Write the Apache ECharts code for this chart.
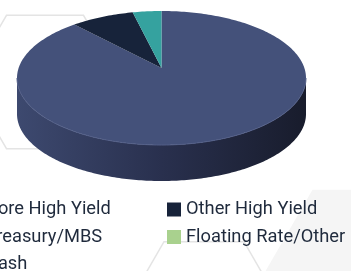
<!DOCTYPE html>
<html>
<head>
<meta charset="utf-8">
<script src="https://cdn.jsdelivr.net/npm/echarts@6/dist/echarts.min.js"></script>
<style>
  html, body { margin: 0; padding: 0; background: #ffffff; }
  #chart { width: 351px; height: 271px; }
</style>
</head>
<body>
<div id="chart"></div>
<script>
// slice order runs clockwise from 12 o'clock
let categories = ["Core High Yield", "Other High Yield", "Treasury/MBS", "Floating Rate/Other", "Cash"];
let weights = [89.7, 7.1, 3.2, 0, 0];
let leftColumn = ["Core High Yield", "Treasury/MBS", "Cash"];
let rightColumn = ["Other High Yield", "Floating Rate/Other"];

let topColors = ["#44517a", "#17233a", "#35a29f", "#a9d18e", "#a6a6a6"];
let sideColors = [
  ["#3d496f", "#29304e", "#181c2c"],
  ["#141d30", "#111827", "#0d1320"],
  ["#2c8a87", "#237270", "#1b5a58"],
  ["#8fb277", "#7a9a65", "#657f53"],
  ["#8c8c8c", "#777777", "#626262"],
];

// ellipse of the tilted disc
let cx = 161.5;
let cy = 78;
let rx = 144.5;
let ry = 67;
let apexY = 68;
let depth = 36;

function pt(a, dy) {
  return [cx + rx * Math.sin(a), cy - ry * Math.cos(a) + (dy || 0)];
}

function arc(a0, a1, dy) {
  let pts = [];
  let n = Math.max(2, Math.ceil(((a1 - a0) * 180) / Math.PI));
  for (let i = 0; i <= n; i++) {
    pts.push(pt(a0 + ((a1 - a0) * i) / n, dy));
  }
  return pts;
}

function sliceRender(idx) {
  return function (params, api) {
    let total = weights.reduce((s, v) => s + v, 0);
    let before = 0;
    for (let i = 0; i < idx; i++) before += weights[i];
    let v = api.value(0);
    if (!(v > 0)) return;
    let a0 = (before / total) * Math.PI * 2;
    let a1 = a0 + (v / total) * Math.PI * 2;

    let children = [];

    // side wall, only the front half is visible
    let s0 = Math.max(a0, Math.PI / 2);
    let s1 = Math.min(a1, (Math.PI * 3) / 2);
    if (s1 > s0) {
      let top = arc(s0, s1, 0);
      let bottom = arc(s0, s1, depth).reverse();
      children.push({
        type: "polygon",
        shape: { points: top.concat(bottom) },
        style: {
          fill: new echarts.graphic.LinearGradient(0, 0, 1, 0, [
            { offset: 0, color: sideColors[idx][0] },
            { offset: 0.5, color: sideColors[idx][1] },
            { offset: 1, color: sideColors[idx][2] },
          ]),
        },
      });
    }

    let face = [[cx, apexY]].concat(arc(a0, a1, 0));
    children.push({
      type: "polygon",
      shape: { points: face },
      style: { fill: topColors[idx] },
    });

    if (s1 > s0) {
      children.push({
        type: "polyline",
        shape: { points: arc(s0, s1, 0) },
        style: { stroke: "#525e87", lineWidth: 1, fill: null },
      });
    }

    return { type: "group", children: children };
  };
}

function hexagon(x, y, r) {
  let pts = [];
  for (let i = 0; i < 6; i++) {
    let a = (Math.PI / 3) * i;
    pts.push([x + r * Math.cos(a), y + r * Math.sin(a)]);
  }
  return pts;
}

let series = categories.map((name, i) => ({
  name: name,
  type: "custom",
  coordinateSystem: "none",
  renderItem: sliceRender(i),
  itemStyle: { color: topColors[i] },
  data: [[weights[i]]],
  silent: true,
}));

let legendText = {
  fontFamily: "Roboto, sans-serif",
  fontSize: 18.3,
  lineHeight: 21,
  color: "#1f2a3c",
};

function legendData(names) {
  return names.map((n) => ({ name: n, itemStyle: { color: topColors[categories.indexOf(n)] } }));
}

function column(names, left) {
  return {
    data: legendData(names),
    orient: "vertical",
    left: left,
    top: 194,
    height: 150,
    icon: "rect",
    itemWidth: 14,
    itemHeight: 14,
    itemGap: 6.5,
    selectedMode: false,
    textStyle: legendText,
  };
}

echarts.init(document.getElementById("chart"), null, { renderer: "canvas" }).setOption({
  animation: false,
  backgroundColor: "#ffffff",
  graphic: [
    {
      type: "polygon",
      z: -10,
      shape: { points: hexagon(45, 82, 77) },
      style: { fill: null, stroke: "#e4e4e4", lineWidth: 1.5 },
    },
    {
      type: "polygon",
      z: -10,
      shape: { points: hexagon(204, 311, 80) },
      style: { fill: null, stroke: "#e4e4e4", lineWidth: 1.5 },
    },
    {
      type: "polygon",
      z: -11,
      shape: { points: hexagon(360, 272, 95) },
      style: { fill: "#f5f5f5" },
    },
  ],
  legend: [column(leftColumn, -38), column(rightColumn, 162)],
  series: series,
});
</script>
</body>
</html>
